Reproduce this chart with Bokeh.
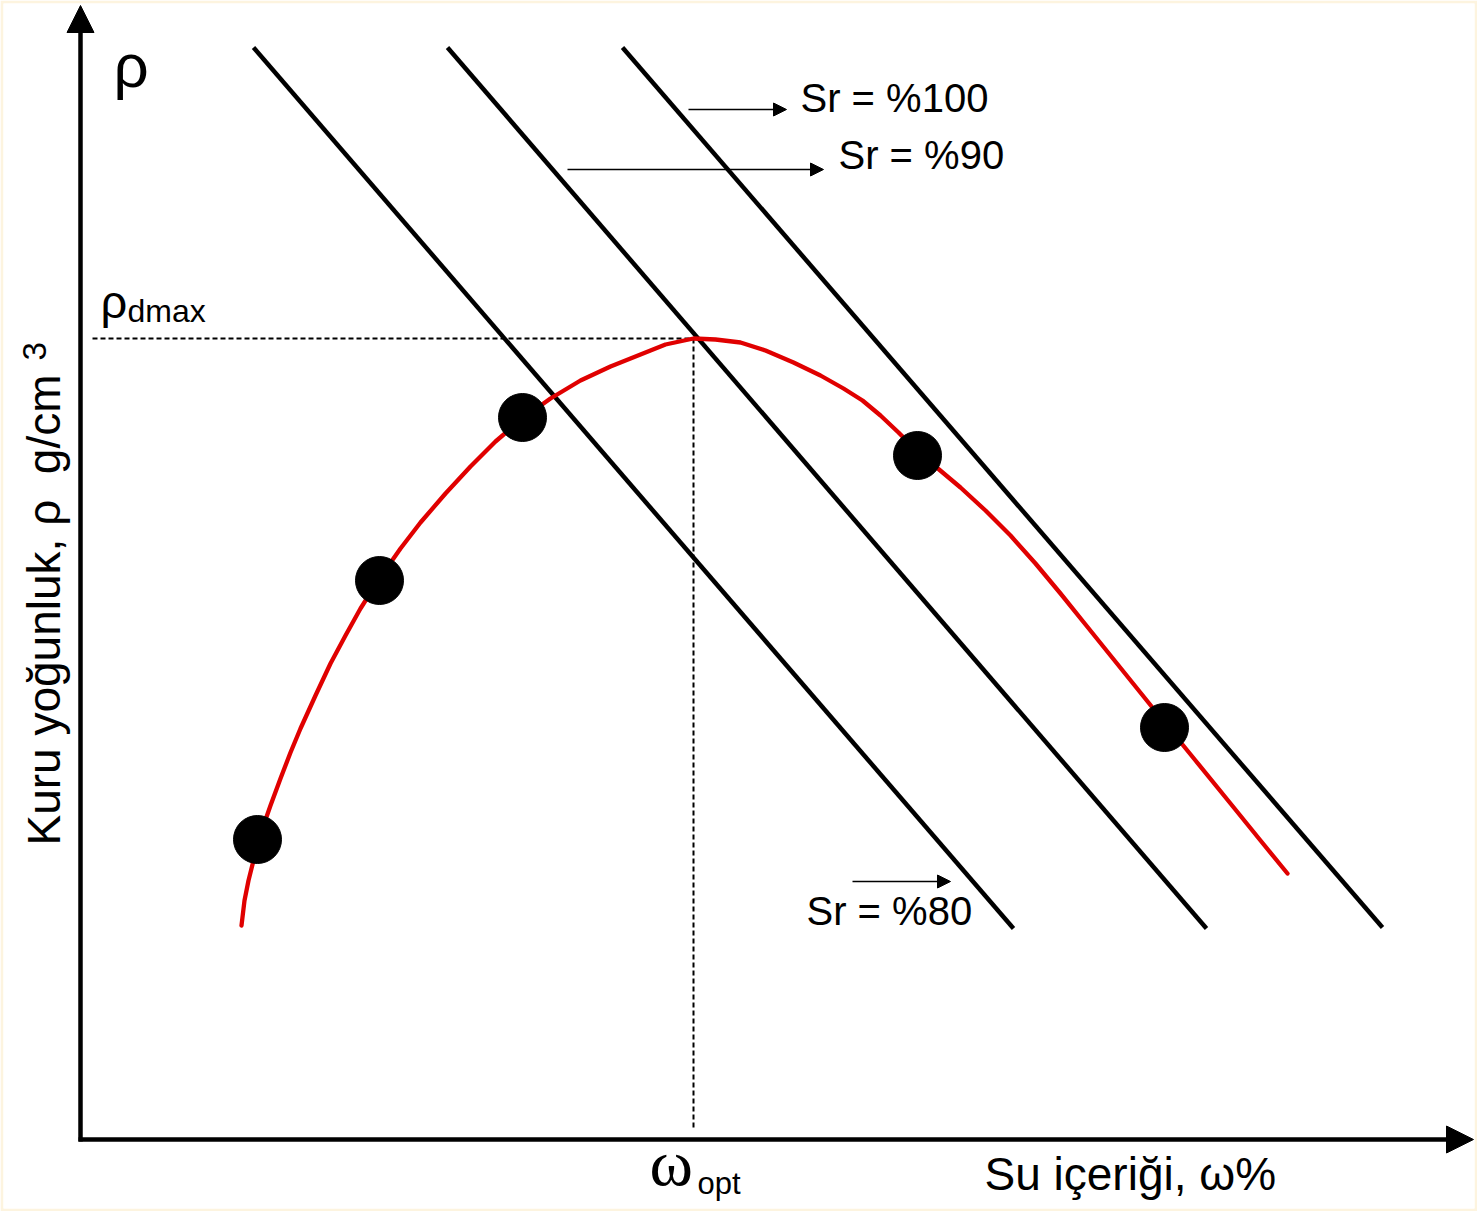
import math
from bokeh.plotting import figure
from bokeh.models import Range1d, Arrow, NormalHead
from bokeh.core.properties import value
from bokeh.embed import file_html
from bokeh.resources import INLINE

# ---- data (arbitrary units: water content %, dry density) ----
water_pts = [17.7, 29.9, 44.2, 83.7, 108.4]
dens_pts = [30.0, 55.9, 72.2, 68.4, 41.2]

curve_w = [16.1, 16.4, 16.8, 17.3, 17.7, 18.3, 19.0, 20.0, 21.0, 22.0, 23.5, 25.0,
           26.5, 28.0, 29.9, 32.0, 34.0, 36.5, 39.0, 41.5, 44.2, 47.0, 50.0, 53.0,
           56.0, 58.5, 61.3, 63.5, 66.0, 68.5, 71.3, 74.0, 76.3, 78.2, 80.0, 81.8,
           83.3, 85.5, 88.0, 90.5, 93.0, 95.5, 98.0, 100.5, 103.0, 105.5, 108.4,
           111.5, 115.0, 118.0, 120.7]
curve_d = [21.4, 23.9, 25.9, 27.9, 29.4, 31.4, 33.4, 36.1, 38.7, 41.1, 44.4, 47.6,
           50.4, 53.1, 56.1, 59.1, 61.7, 64.6, 67.3, 69.8, 72.1, 74.1, 75.9, 77.3,
           78.5, 79.5, 80.1, 80.0, 79.7, 78.9, 77.7, 76.4, 75.1, 73.9, 72.4, 70.7,
           69.2, 67.3, 65.2, 62.9, 60.4, 57.6, 54.6, 51.5, 48.4, 45.3, 41.7,
           37.9, 33.6, 29.9, 26.6]

sr_labels = ["Sr = %80", "Sr = %90", "Sr = %100"]
sr_w_start = [17.3, 36.7, 54.2]
sr_d_start = [109.2, 109.2, 109.2]
sr_w_end = [93.3, 112.6, 130.2]
sr_d_end = [21.1, 21.1, 21.2]

w_opt = 61.3
rho_dmax = 80.1

# label arrow data (start w, end w, level) for Sr80, Sr90, Sr100
lab_arrow_w0 = [77.2, 48.7, 60.8]
lab_arrow_w1 = [87.0, 74.3, 70.6]
lab_arrow_d = [25.8, 97.0, 103.0]
lab_text_w = [72.6, 75.8, 72.0]
lab_text_d = [22.9, 98.5, 104.2]

FONT = "Liberation Sans"
SERIF = "Liberation Serif"
CREAM = "#FDF4DF"

p = figure(width=1477, height=1211,
           x_range=Range1d(-7.7, 139.4), y_range=Range1d(-6.9, 113.6),
           x_axis_type=None, y_axis_type=None,
           output_backend="svg", toolbar_location=None, min_border=3)
p.grid.visible = False
p.outline_line_color = None
p.background_fill_color = "white"
p.border_fill_color = CREAM

# axes drawn as arrows
p.add_layout(Arrow(x_start=0, y_start=-0.2, x_end=0, y_end=113.4,
                   line_width=4.5, line_color="black",
                   end=NormalHead(size=27, fill_color="black", line_color="black", line_width=1)))
p.add_layout(Arrow(x_start=-0.2, y_start=0, x_end=139.3, y_end=0,
                   line_width=4.5, line_color="black",
                   end=NormalHead(size=27, fill_color="black", line_color="black", line_width=1)))

# saturation lines
p.segment(x0=sr_w_start, y0=sr_d_start, x1=sr_w_end, y1=sr_d_end,
          line_color="black", line_width=4.5)

# dashed optimum lines
p.segment(x0=[1.2, w_opt], y0=[rho_dmax, rho_dmax], x1=[w_opt, w_opt], y1=[rho_dmax, 1.2],
          line_color="black", line_width=2, line_dash="5 3")

# compaction curve
p.line(curve_w, curve_d, line_color="#E00000", line_width=4.3, line_join="round", line_cap="round")

# test points
p.scatter(water_pts, dens_pts, size=48, fill_color="black", line_color="black")

# label arrows
for w0, w1, d in zip(lab_arrow_w0, lab_arrow_w1, lab_arrow_d):
    p.add_layout(Arrow(x_start=w0, y_start=d, x_end=w1, y_end=d,
                       line_width=1.5, line_color="black",
                       end=NormalHead(size=13, fill_color="black", line_color="black", line_width=1)))

p.text(x=lab_text_w, y=lab_text_d, text=sr_labels, text_font=value(FONT),
       text_font_size="40px", text_color="black", text_align="left",
       text_baseline="alphabetic")

# rho symbols
p.text(x=[3.3], y=[107.4], text=["ρ"], text_font=value(FONT), text_font_size="62px",
       text_align="left", text_baseline="alphabetic", text_color="black")
p.text(x=[2.0], y=[83.8], text=["ρ"], text_font=value(FONT), text_font_size="47px",
       text_align="left", text_baseline="alphabetic", text_color="black")
p.text(x=[4.7], y=[82.9], text=["dmax"], text_font=value(FONT), text_font_size="32px",
       text_align="left", text_baseline="alphabetic", text_color="black")

# omega opt
p.text(x=[56.9], y=[-2.3], text=["ω"], text_font=value(SERIF), text_font_size="66px",
       text_align="left", text_baseline="alphabetic", text_color="black")
p.text(x=[61.7], y=[-4.4], text=["opt"], text_font=value(FONT), text_font_size="31px",
       text_align="left", text_baseline="alphabetic", text_color="black")

# x label
p.text(x=[90.4], y=[-3.4], text=["Su içeriği, ω%"], text_font=value(FONT),
       text_font_size="46px", text_align="left", text_baseline="alphabetic",
       text_color="black")

# y label (rotated)
p.text(x=[-3.7], y=[29.4], text=["Kuru yoğunluk, ρ \u00a0g/cm"], text_font=value(FONT),
       text_font_size="46px", text_align="left", text_baseline="alphabetic",
       angle=math.pi / 2, text_color="black")
p.text(x=[-4.6], y=[77.9], text=["3"], text_font=value(FONT),
       text_font_size="33px", text_align="left", text_baseline="alphabetic",
       angle=math.pi / 2, text_color="black")

html = file_html(p, INLINE)
open("out.html", "w").write(html)
